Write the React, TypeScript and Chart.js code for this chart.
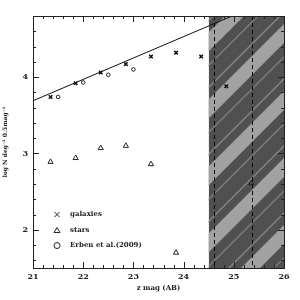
import React, { useEffect, useRef } from "react";
import { Chart, registerables } from "chart.js";

Chart.register(...registerables);

const galaxyMag = [21.35, 21.85, 22.35, 22.85, 23.35, 23.85, 24.35, 24.85];
const galaxyLogN = [3.74, 3.92, 4.06, 4.17, 4.27, 4.32, 4.27, 3.88];
const starMag = [21.35, 21.85, 22.35, 22.85, 23.35, 23.85, 25.35];
const starLogN = [2.89, 2.94, 3.07, 3.10, 2.86, 1.70, 2.61];
const erbenMag = [21.5, 22.0, 22.5, 23.0];
const erbenLogN = [3.74, 3.93, 4.03, 4.10];
const fitMag = [21, 26];
const fitLogN = [3.69, 5.09];
const xTicks = [21, 22, 23, 24, 25, 26];
const yTicks = [2, 3, 4];
const incompleteFrom = 24.5;
const dashedMags = [24.6, 25.37];
const xRange = [21, 26];
const yRange = [1.5, 4.8];
const legendLabels = ["galaxies", "stars", "Erben et al.(2009)"];

const FONT = "'DejaVu Serif', serif";

const decorPlugin = {
  id: "decor",
  beforeDatasetsDraw(chart: any) {
    const { ctx, chartArea: a, scales } = chart;
    const xs = scales.x;
    const x0 = xs.getPixelForValue(incompleteFrom);
    ctx.save();
    ctx.beginPath();
    ctx.rect(x0, a.top, a.right - x0, a.bottom - a.top);
    ctx.clip();
    ctx.fillStyle = "#505050";
    ctx.fillRect(x0, a.top, a.right - x0, a.bottom - a.top);
    const drawBand = (c: number, w: number, color: string) => {
      ctx.fillStyle = color;
      ctx.beginPath();
      ctx.moveTo(c - a.top, a.top);
      ctx.lineTo(c + w - a.top, a.top);
      ctx.lineTo(c + w - a.bottom, a.bottom);
      ctx.lineTo(c - a.bottom, a.bottom);
      ctx.closePath();
      ctx.fill();
    };
    for (let c = 241 - 67 * 2; c < 700; c += 67) {
      drawBand(c, 19, "#a2a2a2");
      drawBand(c + 32, 2, "#7c7c7c");
      drawBand(c - 13, 2, "#858585");
    }
    ctx.strokeStyle = "#000";
    ctx.lineWidth = 1;
    ctx.setLineDash([4, 3]);
    dashedMags.forEach((m) => {
      const px = Math.round(xs.getPixelForValue(m)) + 0.5;
      ctx.beginPath();
      ctx.moveTo(px, a.top);
      ctx.lineTo(px, a.bottom);
      ctx.stroke();
    });
    ctx.restore();
  },
  afterDraw(chart: any) {
    const { ctx, chartArea: a, scales } = chart;
    const xs = scales.x;
    const ys = scales.y;
    ctx.save();
    ctx.strokeStyle = "#222";
    ctx.lineWidth = 1;
    ctx.strokeRect(Math.round(a.left) + 0.5, Math.round(a.top) + 0.5, Math.round(a.right - a.left), Math.round(a.bottom - a.top));
    for (let i = 0; i <= 25; i++) {
      const v = xRange[0] + i * 0.2;
      const major = Math.abs(v - Math.round(v)) < 1e-6;
      const len = major ? 6 : 3;
      const px = Math.round(xs.getPixelForValue(v)) + 0.5;
      ctx.beginPath();
      ctx.moveTo(px, a.bottom);
      ctx.lineTo(px, a.bottom - len);
      ctx.moveTo(px, a.top);
      ctx.lineTo(px, a.top + len);
      ctx.stroke();
    }
    for (let i = 0; i < 17; i++) {
      const v = 1.6 + i * 0.2;
      if (v > yRange[1] + 1e-6) break;
      const major = Math.abs(v - Math.round(v)) < 1e-6;
      const len = major ? 6 : 3;
      const py = Math.round(ys.getPixelForValue(v)) + 0.5;
      ctx.beginPath();
      ctx.moveTo(a.left, py);
      ctx.lineTo(a.left + len, py);
      ctx.moveTo(a.right, py);
      ctx.lineTo(a.right - len, py);
      ctx.stroke();
    }
    // legend
    const lx = a.left + 24;
    const tx = a.left + 37;
    const offs = [0, 16, 31];
    ctx.font = `bold 7px ${FONT}`;
    ctx.fillStyle = "#222";
    ctx.textBaseline = "middle";
    ctx.textAlign = "left";
    legendLabels.forEach((lab, i) => {
      const yPix = ys.getPixelForValue(2.2) + offs[i];
      ctx.strokeStyle = "#222";
      ctx.lineWidth = 1;
      ctx.beginPath();
      if (i === 0) {
        ctx.moveTo(lx - 2.5, yPix - 2.5); ctx.lineTo(lx + 2.5, yPix + 2.5);
        ctx.moveTo(lx + 2.5, yPix - 2.5); ctx.lineTo(lx - 2.5, yPix + 2.5);
      } else if (i === 1) {
        ctx.moveTo(lx, yPix - 3); ctx.lineTo(lx + 3, yPix + 2); ctx.lineTo(lx - 3, yPix + 2); ctx.closePath();
      } else {
        ctx.arc(lx, yPix, 3, 0, Math.PI * 2);
      }
      ctx.stroke();
      ctx.fillText(lab, tx, yPix);
    });
    ctx.restore();
  },
};

const toPts = (xs: number[], ys: number[]) => xs.map((x, i) => ({ x, y: ys[i] }));

export default function App() {
  const ref = useRef<HTMLCanvasElement | null>(null);
  useEffect(() => {
    if (!ref.current) return;
    const chart = new Chart(ref.current, {
      type: "scatter",
      data: {
        datasets: [
          {
            type: "line",
            label: "fit",
            data: toPts(fitMag, fitLogN),
            borderColor: "#111",
            borderWidth: 1,
            pointRadius: 0,
            fill: false,
          },
          {
            label: legendLabels[0],
            data: toPts(galaxyMag, galaxyLogN),
            pointStyle: "crossRot",
            pointRadius: 2.5,
            borderColor: "#111",
            borderWidth: 1.5,
            backgroundColor: "#111",
          },
          {
            label: legendLabels[1],
            data: toPts(starMag, starLogN),
            pointStyle: "triangle",
            pointRadius: 3,
            borderColor: "#222",
            borderWidth: 1,
            backgroundColor: "rgba(0,0,0,0)",
          },
          {
            label: legendLabels[2],
            data: toPts(erbenMag, erbenLogN),
            pointStyle: "circle",
            pointRadius: 1.8,
            borderColor: "#222",
            borderWidth: 1,
            backgroundColor: "rgba(0,0,0,0)",
          },
        ],
      },
      options: {
        responsive: false,
        animation: false,
        devicePixelRatio: 1,
        layout: { padding: { left: 2, right: 16, top: 16, bottom: 8 } },
        plugins: { legend: { display: false }, tooltip: { enabled: false } },
        scales: {
          x: {
            type: "linear",
            min: xRange[0],
            max: xRange[1],
            afterFit: (s: any) => { s.height = 24; },
            afterBuildTicks: (s: any) => { s.ticks = xTicks.map((v) => ({ value: v })); },
            grid: { display: false, drawTicks: false },
            border: { display: false },
            ticks: { color: "#222", padding: 4, maxRotation: 0, font: { family: FONT, size: 8, weight: "bold" } },
            title: { display: true, text: "z mag (AB)", color: "#222", padding: 0, font: { family: FONT, size: 7, weight: "bold" } },
          },
          y: {
            type: "linear",
            min: yRange[0],
            max: yRange[1],
            afterFit: (s: any) => { s.width = 31; },
            afterBuildTicks: (s: any) => { s.ticks = yTicks.map((v) => ({ value: v })); },
            grid: { display: false, drawTicks: false },
            border: { display: false },
            ticks: { color: "#222", padding: 5, font: { family: FONT, size: 8, weight: "bold" } },
            title: { display: true, text: "log N deg\u207B\u00B2 0.5mag\u207B\u00B9", color: "#222", padding: 0, font: { family: FONT, size: 6, weight: "bold" } },
          },
        },
      },
      plugins: [decorPlugin],
    } as any);
    return () => chart.destroy();
  }, []);
  return (
    <div style={{ position: "absolute", left: 0, top: 0, width: 300, height: 300, background: "#fff" }}>
      <canvas ref={ref} width={300} height={300} />
    </div>
  );
}
